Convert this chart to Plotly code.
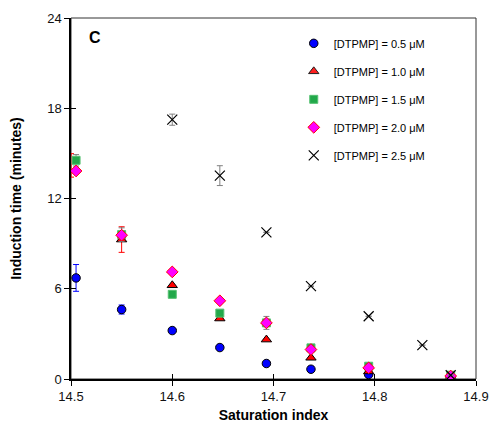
import plotly.graph_objects as go

# ---- data ----
sat_index = [14.505, 14.55, 14.60, 14.647, 14.693, 14.737, 14.794, 14.875]
sat_index_red = [14.50, 14.55, 14.60, 14.647, 14.693, 14.737, 14.794, 14.875]
sat_index_25 = [14.60, 14.647, 14.693, 14.737, 14.794, 14.847, 14.875]

t_05 = [6.72, 4.62, 3.22, 2.09, 1.03, 0.65, 0.30, 0.15]
e_05 = [0.89, 0.30, 0, 0, 0, 0, 0, 0]
t_10 = [14.2, 9.27, 6.23, 4.02, 2.62, 1.41, 0.50, 0.20]
e_10 = [0.78, 0.85, 0, 0, 0, 0, 0, 0]
t_15 = [14.54, 9.6, 5.63, 4.38, 3.73, 2.07, 0.85, 0.25]
e_15 = [0.38, 0.45, 0, 0, 0.43, 0, 0, 0]
t_20 = [13.83, 9.56, 7.12, 5.20, 3.73, 1.96, 0.74, 0.20]
t_25 = [17.24, 13.52, 9.75, 6.17, 4.17, 2.25, 0.25]
e_25 = [0.37, 0.66, 0, 0, 0, 0, 0]

names = ["[DTPMP] = 0.5 μM", "[DTPMP] = 1.0 μM", "[DTPMP] = 1.5 μM",
         "[DTPMP] = 2.0 μM", "[DTPMP] = 2.5 μM"]

x_ticks = [14.5, 14.6, 14.7, 14.8, 14.9]
y_ticks = [0, 6, 12, 18, 24]

FONT = "Liberation Sans, Arial, sans-serif"

fig = go.Figure()

def err(vals, color):
    return dict(type="data", array=vals, visible=True, color=color, thickness=1, width=3)

fig.add_trace(go.Scatter(
    x=sat_index, y=t_05, mode="markers", name=names[0], legendgroup="a",
    marker=dict(symbol="circle", size=8.5, color="#0000FF", line=dict(color="#000000", width=1)),
    error_y=err(e_05, "#0000FF")))

fig.add_trace(go.Scatter(
    x=sat_index_red, y=t_10, mode="markers", name=names[1], legendgroup="b",
    marker=dict(symbol="triangle-up", size=9, color="#FF0000",
                opacity=[0, 1, 1, 1, 1, 1, 1, 1],
                line=dict(color="#000000", width=1)),
    error_y=err(e_10, "#FF0000")))

fig.add_trace(go.Scatter(
    x=sat_index, y=t_15, mode="markers", name=names[2], legendgroup="c",
    marker=dict(symbol="square", size=8, color="#22A84A", line=dict(color="#55C070", width=1)),
    error_y=err(e_15, "#808080")))

fig.add_trace(go.Scatter(
    x=sat_index, y=t_20, mode="markers", name=names[3], legendgroup="d",
    marker=dict(symbol="diamond", size=9, color="#FF00FF", line=dict(color="#FF0000", width=1)),
    error_y=err([0] * len(t_20), "#FF00FF")))

fig.add_trace(go.Scatter(
    x=sat_index_25, y=t_25, mode="markers", name=names[4], legendgroup="e",
    marker=dict(symbol="x-thin-open", size=10, color="#000000", line=dict(color="#000000", width=1.2)),
    error_y=err(e_25, "#808080")))

# empty trace to bring in the overlay axes used for inside tick marks
fig.add_trace(go.Scatter(x=[], y=[], xaxis="x2", yaxis="y2", showlegend=False))

axis_common = dict(showgrid=False, zeroline=False, automargin=False)

fig.update_layout(
    width=491, height=423,
    margin=dict(l=71, r=15, t=18, b=43.5),
    paper_bgcolor="white", plot_bgcolor="white",
    font=dict(family=FONT, size=13, color="#111111"),
    xaxis=dict(range=[14.5, 14.9], tickvals=x_ticks, ticktext=[f"{v:.1f}" for v in x_ticks],
               ticks="outside", ticklen=5, tickwidth=1, tickcolor="#000000",
               showline=True, linecolor="#000000", linewidth=1.5,
               title=dict(text="<b>Saturation index</b>", font=dict(size=14, color="#000000"), standoff=12),
               tickfont=dict(size=13, color="#111111"), **axis_common),
    yaxis=dict(range=[0, 24], tickvals=y_ticks, ticks="outside", ticklen=5, tickwidth=1,
               tickcolor="#000000", showline=True, linecolor="#000000", linewidth=1.5,
               title=dict(text="<b>Induction time (minutes)</b>", font=dict(size=14, color="#000000"), standoff=22),
               tickfont=dict(size=13, color="#111111"), **axis_common),
    xaxis2=dict(range=[14.5, 14.9], tickvals=x_ticks, overlaying="x", side="bottom",
                ticks="inside", ticklen=5, tickwidth=1, tickcolor="#000000",
                showticklabels=False, showline=False, **axis_common),
    yaxis2=dict(range=[0, 24], tickvals=y_ticks, overlaying="y", side="left",
                ticks="inside", ticklen=5, tickwidth=1, tickcolor="#000000",
                showticklabels=False, showline=False, **axis_common),
    legend=dict(x=0.55, y=0.97, xanchor="left", yanchor="top",
                bgcolor="rgba(0,0,0,0)", borderwidth=0,
                font=dict(size=11, color="#000000", family=FONT),
                tracegroupgap=9, itemwidth=30),
    shapes=[dict(type="rect", xref="paper", yref="paper", x0=0, y0=0, x1=1, y1=1,
                 line=dict(color="#333333", width=1), layer="below")],
    annotations=[dict(text="<b>C</b>", xref="paper", yref="paper", x=0.04, y=0.945,
                      xanchor="left", yanchor="middle", showarrow=False,
                      font=dict(size=16, color="#000000", family=FONT))],
)

fig.write_html("out.html")
